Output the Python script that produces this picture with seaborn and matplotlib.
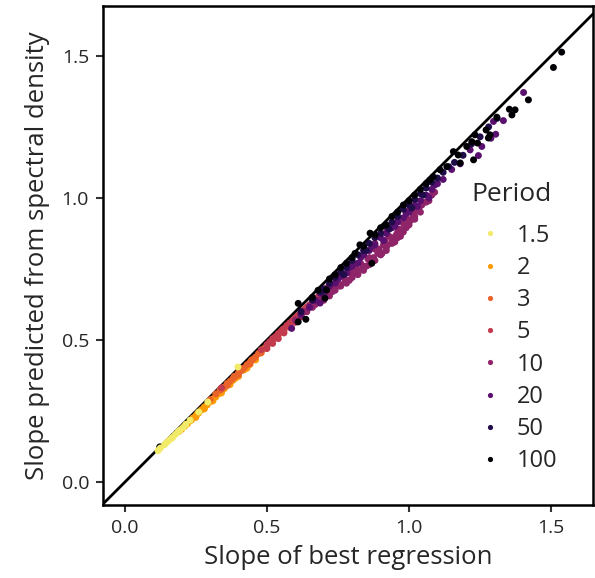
import matplotlib
matplotlib.use("Agg")
import matplotlib.pyplot as plt
import seaborn as sns
import pandas as pd
import numpy as np

# legend order
periods = ["1.5", "2", "3", "5", "10", "20", "50", "100"]

# slopes, one pair of lists per period
x_p1_5 = [0.117, 0.125, 0.14, 0.147, 0.155, 0.164, 0.169, 0.178, 0.188, 0.194,
          0.205, 0.215, 0.23, 0.26, 0.292, 0.398]
y_p1_5 = [0.111, 0.12, 0.132, 0.139, 0.147, 0.154, 0.158, 0.168, 0.178, 0.183,
          0.192, 0.203, 0.218, 0.247, 0.282, 0.405]

x_p2 = [0.19, 0.20, 0.21, 0.215, 0.22, 0.23, 0.235, 0.24, 0.25, 0.255, 0.26, 0.27,
        0.275, 0.28, 0.29, 0.30, 0.305, 0.31, 0.32, 0.33, 0.335, 0.34, 0.35, 0.36,
        0.37, 0.38, 0.39, 0.40, 0.42, 0.44,
        0.25, 0.28, 0.31, 0.34, 0.37, 0.40, 0.43, 0.46]
y_p2 = [0.178, 0.186, 0.196, 0.203, 0.205, 0.216, 0.219, 0.226, 0.234, 0.241, 0.243, 0.255,
        0.257, 0.265, 0.272, 0.284, 0.285, 0.293, 0.300, 0.312, 0.313, 0.321, 0.329, 0.341,
        0.347, 0.358, 0.366, 0.378, 0.395, 0.414,
        0.228, 0.258, 0.286, 0.314, 0.343, 0.372, 0.401, 0.430]

x_p3 = [0.30, 0.32, 0.335, 0.34, 0.35, 0.36, 0.37, 0.38, 0.385, 0.39, 0.40, 0.41,
        0.415, 0.42, 0.43, 0.44, 0.445, 0.45, 0.46, 0.47, 0.475, 0.48, 0.49, 0.50,
        0.51, 0.52, 0.53, 0.54, 0.55,
        0.36, 0.40, 0.44, 0.48, 0.52, 0.56]
y_p3 = [0.29, 0.31, 0.324, 0.327, 0.335, 0.347, 0.355, 0.364, 0.372, 0.373, 0.385, 0.392,
        0.400, 0.402, 0.413, 0.421, 0.428, 0.432, 0.440, 0.452, 0.455, 0.461, 0.470, 0.479,
        0.490, 0.498, 0.509, 0.517, 0.528,
        0.340, 0.378, 0.416, 0.455, 0.493, 0.533]

x_p5 = [0.34, 0.48, 0.50, 0.51, 0.52, 0.53, 0.54, 0.55, 0.555, 0.56, 0.57, 0.575,
        0.58, 0.59, 0.60, 0.605, 0.61, 0.62, 0.63, 0.635, 0.64, 0.65, 0.66, 0.67,
        0.68, 0.69, 0.70, 0.71,
        0.50, 0.52, 0.54, 0.56, 0.58, 0.60, 0.62, 0.64, 0.66, 0.68, 0.70, 0.72]
y_p5 = [0.332, 0.466, 0.484, 0.494, 0.505, 0.512, 0.523, 0.531, 0.537, 0.540, 0.551, 0.553,
        0.560, 0.568, 0.578, 0.581, 0.587, 0.596, 0.606, 0.609, 0.616, 0.624, 0.635, 0.643,
        0.652, 0.662, 0.671, 0.683,
        0.470, 0.488, 0.505, 0.525, 0.545, 0.562, 0.582, 0.600, 0.618, 0.638, 0.655, 0.680]

x_p10 = [0.60, 0.62, 0.64, 0.65, 0.66, 0.68, 0.69, 0.70, 0.71, 0.72, 0.73, 0.74,
         0.75, 0.76, 0.77, 0.78, 0.79, 0.80, 0.81, 0.82, 0.83, 0.84, 0.85, 0.86,
         0.87, 0.88, 0.89, 0.90, 0.91, 0.92, 0.93, 0.94, 0.95, 0.96, 0.97, 0.98,
         0.99, 1.00, 1.01, 1.02, 1.03, 1.04, 1.05, 1.07, 1.08,
         0.605, 0.63, 0.67, 0.695, 0.715, 0.735, 0.755, 0.775, 0.795, 0.815, 0.835,
         0.855, 0.875, 0.895, 0.905, 0.915, 0.925, 0.945, 0.955, 0.965, 0.975, 0.985,
         0.995, 1.005, 1.015, 1.025, 1.035, 1.045, 1.06, 1.09,
         0.70, 0.72, 0.74, 0.76, 0.78, 0.80, 0.82, 0.84, 0.86, 0.88, 0.90, 0.92,
         0.94, 0.96, 0.98, 1.00, 1.02,
         0.80, 0.84, 0.88, 0.92, 0.96, 1.00]
y_p10 = [0.570, 0.585, 0.600, 0.620, 0.615, 0.640, 0.640, 0.665, 0.658, 0.675, 0.670, 0.700,
         0.695, 0.695, 0.720, 0.710, 0.710, 0.745, 0.735, 0.735, 0.770, 0.760, 0.760, 0.790,
         0.775, 0.820, 0.805, 0.800, 0.835, 0.825, 0.865, 0.850, 0.845, 0.880, 0.865, 0.910,
         0.895, 0.920, 0.950, 0.935, 0.955, 0.950, 0.985, 0.990, 1.010,
         0.565, 0.600, 0.625, 0.655, 0.670, 0.690, 0.690, 0.705, 0.735, 0.750, 0.750,
         0.785, 0.790, 0.820, 0.805, 0.850, 0.835, 0.860, 0.870, 0.890, 0.885, 0.900,
         0.925, 0.920, 0.935, 0.960, 0.965, 0.975, 0.985, 1.020,
         0.640, 0.655, 0.675, 0.690, 0.700, 0.720, 0.730, 0.745, 0.765, 0.780, 0.800, 0.815,
         0.840, 0.860, 0.880, 0.905, 0.925,
         0.765, 0.800, 0.840, 0.880, 0.920, 0.955]

x_p20 = [0.587, 0.62, 0.65, 0.67, 0.687, 0.687, 0.70, 0.72, 0.74, 0.76, 0.78, 0.80,
         0.82, 0.84, 0.86, 0.88, 0.90, 0.92, 0.94, 0.96, 0.98, 1.00, 1.02, 1.04,
         1.06, 1.08, 1.10, 1.12, 1.15, 1.18, 1.215, 1.244, 1.256, 1.288, 1.297, 1.305,
         1.332, 1.403, 0.75, 0.79, 0.83, 0.87, 0.91, 0.95, 0.99, 1.03, 1.07, 1.09]
y_p20 = [0.541, 0.590, 0.615, 0.640, 0.630, 0.665, 0.660, 0.690, 0.700, 0.725, 0.735, 0.760,
         0.770, 0.800, 0.815, 0.835, 0.860, 0.875, 0.895, 0.915, 0.930, 0.950, 0.975, 0.990,
         1.010, 1.030, 1.050, 1.065, 1.100, 1.120, 1.169, 1.149, 1.181, 1.210, 1.269, 1.224,
         1.272, 1.371, 0.715, 0.755, 0.790, 0.830, 0.850, 0.900, 0.945, 0.970, 1.000, 1.045]

x_p50 = [0.62, 0.66, 0.69, 0.70, 0.72, 0.74, 0.76, 0.78, 0.80, 0.82, 0.84, 0.86,
         0.88, 0.90, 0.92, 0.94, 0.96, 0.98, 1.00, 1.02, 1.04, 1.06, 1.08, 1.10,
         1.12, 1.14, 1.16, 1.19, 1.22, 1.25, 1.28, 1.31, 0.77, 0.85, 0.93, 1.01, 1.05]
y_p50 = [0.600, 0.640, 0.670, 0.680, 0.700, 0.720, 0.740, 0.755, 0.780, 0.800, 0.815, 0.840,
         0.860, 0.875, 0.900, 0.915, 0.935, 0.960, 0.975, 0.995, 1.015, 1.035, 1.055, 1.070,
         1.090, 1.110, 1.125, 1.150, 1.190, 1.215, 1.250, 1.280, 0.730, 0.815, 0.890, 0.965, 1.010]

x_p100 = [0.123, 0.61, 0.61, 0.637, 0.66, 0.68, 0.704, 0.71, 0.72, 0.74, 0.76, 0.78,
          0.80, 0.81, 0.827, 0.84, 0.863, 0.869, 0.88, 0.90, 0.92, 0.94, 0.96, 0.98,
          1.00, 1.02, 1.04, 1.06, 1.074, 1.085, 1.109, 1.133, 1.156, 1.173, 1.18, 1.203,
          1.221, 1.227, 1.232, 1.241, 1.271, 1.279, 1.285, 1.309, 1.353, 1.362, 1.373,
          1.42, 1.508, 1.537]
y_p100 = [0.124, 0.629, 0.564, 0.573, 0.650, 0.675, 0.647, 0.676, 0.715, 0.730, 0.755, 0.770,
          0.790, 0.805, 0.835, 0.830, 0.876, 0.770, 0.870, 0.895, 0.905, 0.935, 0.950, 0.975,
          0.990, 1.010, 1.030, 1.050, 1.063, 1.074, 1.099, 1.110, 1.163, 1.151, 1.123, 1.181,
          1.198, 1.134, 1.222, 1.193, 1.239, 1.211, 1.222, 1.284, 1.312, 1.292, 1.310,
          1.345, 1.459, 1.513]

# drawing order (yellow last so it sits on the orange band)
series = [("2", x_p2, y_p2), ("3", x_p3, y_p3), ("5", x_p5, y_p5),
          ("10", x_p10, y_p10), ("20", x_p20, y_p20), ("50", x_p50, y_p50),
          ("100", x_p100, y_p100), ("1.5", x_p1_5, y_p1_5)]

df = pd.concat([pd.DataFrame({"best": xs, "pred": ys, "Period": p}) for p, xs, ys in series],
               ignore_index=True)

cmap = plt.get_cmap("inferno")
palette = dict(zip(periods, [cmap(v) for v in [0.94, 0.78, 0.65, 0.52, 0.39, 0.255, 0.125, 0.0]]))

sns.set_style("ticks")
plt.rcParams['font.family'] = ['Open Sans', 'DejaVu Sans']

fig = plt.figure(figsize=(5.95, 5.78), dpi=100)
ax = fig.add_axes([0.173, 0.126, 0.824, 0.864])

sns.scatterplot(data=df, x="best", y="pred", hue="Period", hue_order=periods,
                palette=palette, s=25, linewidth=0, ax=ax)
ax.axline((0, 0), slope=1, color="black", linewidth=2, zorder=0)

ax.set_xlim(-0.077, 1.648)
ax.set_ylim(-0.081, 1.676)
ax.set_xticks([0.0, 0.5, 1.0, 1.5])
ax.set_yticks([0.0, 0.5, 1.0, 1.5])
ax.set_xticklabels(["0.0", "0.5", "1.0", "1.5"])
ax.set_yticklabels(["0.0", "0.5", "1.0", "1.5"])
ax.tick_params(length=5, width=1.5, color="#333333", labelsize=14, pad=5)
ax.set_xlabel("Slope of best regression", fontsize=18.5, labelpad=6)
ax.set_ylabel("Slope predicted from spectral density", fontsize=18.5, labelpad=8)
for sp in ax.spines.values():
    sp.set_visible(True)
    sp.set_linewidth(1.8)
    sp.set_color("black")

leg = ax.legend(title="Period", frameon=False, loc="upper left",
                bbox_to_anchor=(0.697, 0.69), fontsize=17, title_fontsize=19,
                labelspacing=0.35, handletextpad=0.15, markerscale=0.75)
leg._legend_box.sep = 12

fig.savefig("out.png", dpi=100)
